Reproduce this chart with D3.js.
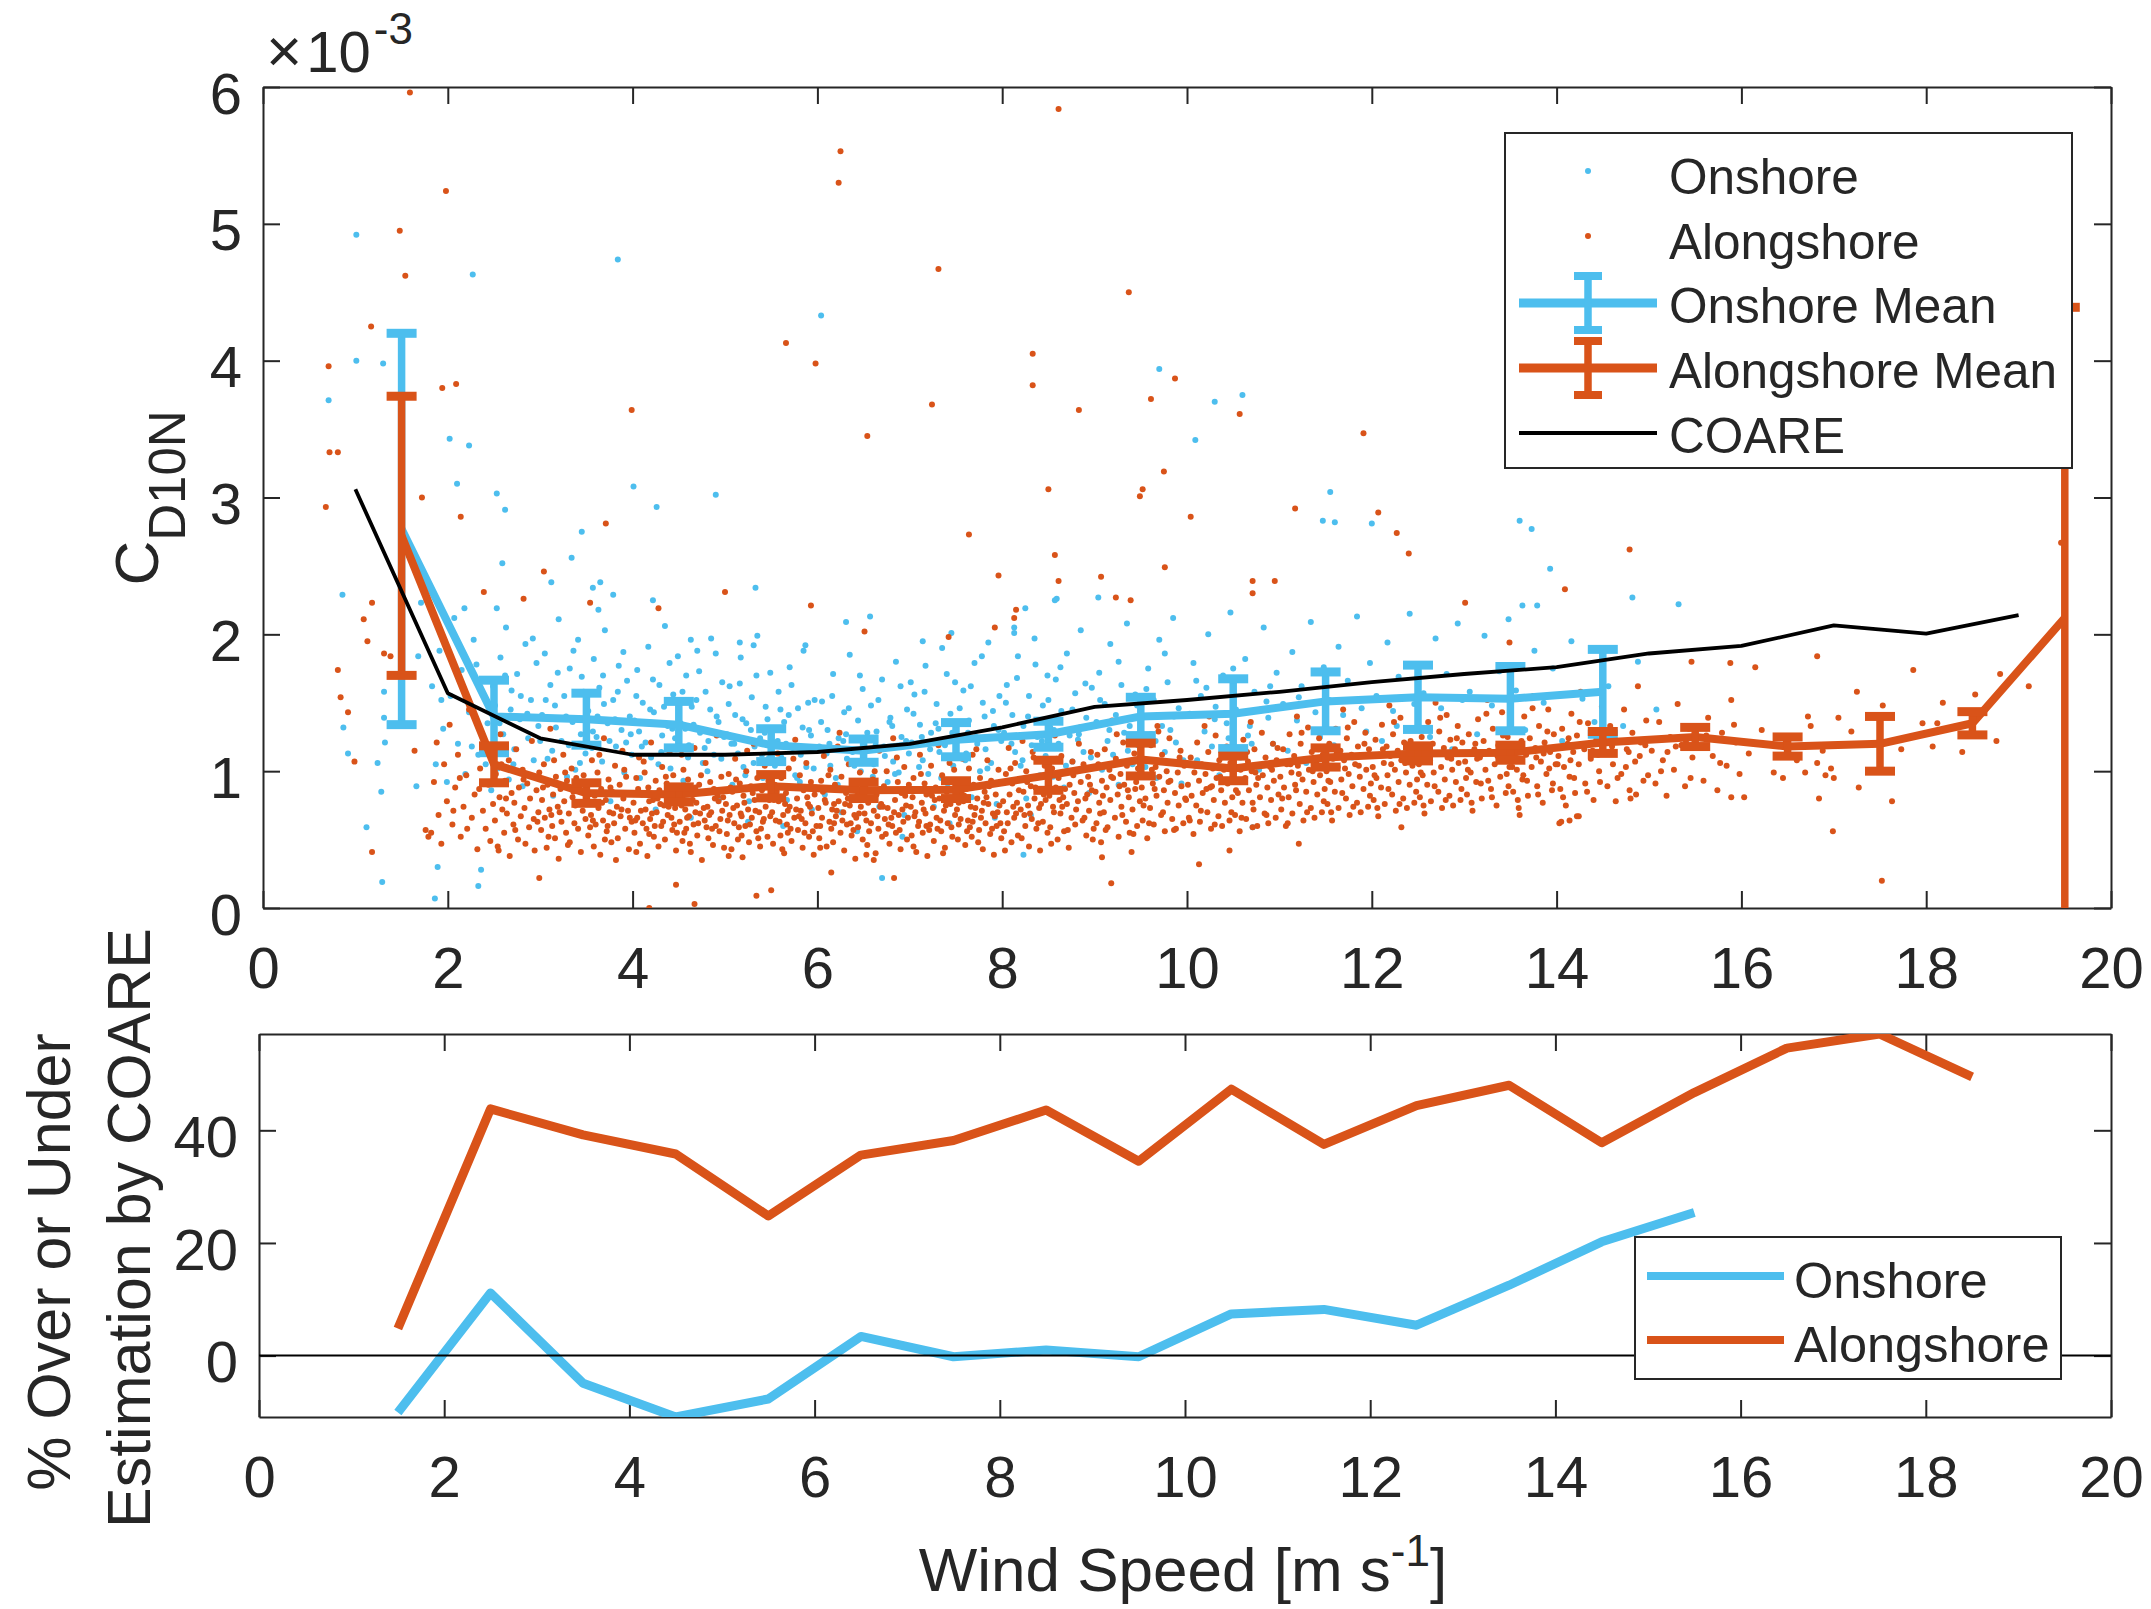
<!DOCTYPE html>
<html>
<head>
<meta charset="utf-8">
<script src="https://cdn.jsdelivr.net/npm/d3@7"></script>
<style>
  html, body { margin: 0; padding: 0; background: #fff; }
  svg { display: block; }
  text { font-family: "Liberation Sans", Arial, Helvetica, sans-serif; fill: #262626; }
</style>
</head>
<body>
<svg id="fig" width="2151" height="1609"></svg>
<script>
// ---------------------------------------------------------------
// Drag coefficient C_D10N (units of 1e-3) vs 10 m wind speed
// ---------------------------------------------------------------

// Individual onshore-wind samples [wind speed, C_D10N x1e3]
const onshoreSamples = [
  [1.01,4.92],[2.27,4.63],[3.84,4.74],[6.04,4.33],[1.01,4.0],[1.30,3.98],[0.71,3.71],[2.02,3.43],[2.23,3.38],[2.10,3.10],
  [2.53,3.03],[2.62,2.91],[4.01,3.08],[4.26,2.93],[4.90,3.02],[3.45,2.75],[9.70,3.94],[10.30,3.70],[10.60,3.75],[10.09,3.42],
  [11.55,3.04],[11.60,2.82],[12.0,2.81],[13.60,2.83],[13.73,2.77],[13.93,2.48],[14.82,2.27],[13.63,2.21],[13.79,2.21],[15.32,2.22],
  [9.04,2.27],[8.25,2.19],[8.59,2.26],[8.13,2.05],[0.86,2.29],[0.87,1.32],[0.92,1.13],[1.12,0.59],[1.29,0.19],[1.86,0.07],
  [1.89,0.30],[1.31,1.58],[1.31,1.39],[1.32,1.21],[1.24,1.06],[1.28,0.85],[1.66,0.89],[1.68,1.84],[1.71,2.23],[1.77,2.25],
  [1.93,1.52],[2.59,2.52],[2.18,2.19],[2.53,2.19],[3.34,2.56],[3.12,2.38],[3.57,2.34],[3.65,2.38],[3.79,2.29],[4.22,2.25],
  [4.63,1.96],[5.33,2.34],[8.57,2.25],[6.57,2.13],[5.87,1.92],[6.31,2.09],[7.45,2.01],[8.13,2.01],[5.16,1.94],[5.31,1.92],
  [7.14,1.95],[7.01,1.65],[6.70,0.22],[2.33,0.16],[2.36,0.28],[8.23,0.39],[10.71,0.59],[11.47,2.83],
  [1.83,1.62],[1.87,1.05],[1.91,1.88],[1.95,1.31],[1.99,.92],[2.03,1.55],[2.07,2.12],[2.11,1.20],[2.15,1.74],[2.19,.98],
  [2.23,1.43],[2.28,1.96],[2.33,1.12],[2.38,1.67],[2.43,1.35],[2.47,.86],
  [2.51,1.48],[2.54,1.02],[2.57,1.83],[2.60,1.27],[2.63,2.05],[2.66,.94],[2.69,1.59],[2.72,1.16],[2.75,1.71],[2.78,1.38],
  [2.81,.89],[2.84,1.93],[2.87,1.24],[2.90,1.52],[2.93,1.08],[2.96,1.79],[2.98,1.33],[2.68,1.45],
  [3.02,1.41],[3.05,1.86],[3.08,1.09],[3.11,1.63],[3.14,.82],[3.17,1.32],[3.20,2.11],[3.23,1.22],[3.26,1.55],[3.29,.96],
  [3.32,1.75],[3.35,1.36],[3.38,1.01],[3.41,1.96],[3.44,1.27],[3.47,1.58],[3.49,1.13],[3.16,1.48],[3.31,1.19],[3.45,1.69],
  [3.52,1.44],[3.55,.91],[3.58,1.82],[3.61,1.25],[3.64,1.61],[3.67,1.07],[3.70,2.03],[3.73,1.35],[3.76,.78],[3.79,1.52],
  [3.82,1.18],[3.85,1.77],[3.88,1.30],[3.91,.99],[3.94,1.66],[3.97,1.40],[3.99,1.12],[3.57,1.29],[3.69,1.49],[3.81,1.38],
  [3.93,1.21],[3.63,2.18],
  [4.02,1.37],[4.05,1.74],[4.08,.95],[4.11,1.50],[4.14,1.21],[4.17,1.91],[4.20,1.10],[4.23,1.43],[4.26,.84],[4.29,1.63],
  [4.32,1.26],[4.35,2.06],[4.38,1.33],[4.41,1.02],[4.44,1.56],[4.47,1.16],[4.49,1.84],[4.07,1.29],[4.19,1.45],[4.31,1.14],
  [4.43,1.31],[4.25,.72],
  [4.52,1.35],[4.55,.93],[4.58,1.70],[4.61,1.19],[4.64,1.47],[4.67,.87],[4.70,1.88],[4.73,1.28],[4.76,1.06],[4.79,1.58],
  [4.82,1.22],[4.85,1.97],[4.88,1.12],[4.91,1.40],[4.94,.80],[4.97,1.65],[4.99,1.25],[4.57,1.31],[4.69,1.52],[4.81,1.00],
  [4.93,1.36],[4.63,.66],
  [5.02,1.27],[5.05,1.62],[5.08,.90],[5.11,1.41],[5.14,1.13],[5.17,1.83],[5.20,1.03],[5.23,1.35],[5.26,.78],[5.29,1.54],
  [5.32,1.18],[5.35,1.99],[5.38,1.24],[5.41,.95],[5.44,1.47],[5.47,1.09],[5.49,1.72],[5.07,1.20],[5.19,1.38],[5.31,1.06],
  [5.43,1.28],[5.25,.63],
  [5.52,1.21],[5.55,.85],[5.58,1.58],[5.61,1.10],[5.64,1.36],[5.67,.79],[5.70,1.76],[5.73,1.17],[5.76,.97],[5.79,1.46],
  [5.82,1.12],[5.85,1.88],[5.88,1.03],[5.91,1.30],[5.94,.72],[5.97,1.52],[5.99,1.15],[5.57,1.22],[5.69,1.41],[5.81,.92],
  [5.93,1.26],[5.63,.60],
  [6.02,1.18],[6.05,1.51],[6.08,.83],[6.11,1.30],[6.14,1.04],[6.17,1.71],[6.20,.95],[6.23,1.24],[6.26,.70],[6.29,1.43],
  [6.32,1.09],[6.35,1.85],[6.38,1.14],[6.41,.88],[6.44,1.37],[6.47,1.00],[6.49,1.60],[6.13,1.20],[6.31,1.27],[6.43,.56],
  [6.52,1.15],[6.55,.80],[6.58,1.48],[6.61,1.05],[6.64,1.29],[6.67,.74],[6.70,1.67],[6.73,1.11],[6.76,.92],[6.79,1.39],
  [6.82,1.07],[6.85,1.80],[6.88,.99],[6.91,1.25],[6.94,.68],[6.97,1.45],[6.99,1.13],[6.63,1.19],[6.81,1.33],[6.92,.52],
  [7.02,1.21],[7.05,1.56],[7.08,.87],[7.11,1.34],[7.14,1.08],[7.17,1.77],[7.20,.98],[7.23,1.28],[7.26,.74],[7.29,1.49],
  [7.32,1.14],[7.35,1.90],[7.38,1.19],[7.41,.91],[7.44,1.42],[7.47,1.04],[7.49,1.65],[7.13,1.25],[7.31,1.31],[7.43,.62],
  [7.52,1.24],[7.55,.89],[7.58,1.59],[7.61,1.13],[7.64,1.37],[7.67,.81],[7.70,1.79],[7.73,1.20],[7.76,1.00],[7.79,1.50],
  [7.82,1.16],[7.85,1.94],[7.88,1.06],[7.91,1.33],[7.94,.76],[7.97,1.55],[7.99,1.22],[7.63,1.28],[7.81,1.40],[7.92,.66],
  [8.02,1.28],[8.05,1.63],[8.08,.93],[8.11,1.41],[8.14,1.14],[8.17,1.84],[8.20,1.04],[8.23,1.33],[8.26,.80],[8.29,1.55],
  [8.32,1.19],[8.35,1.97],[8.38,1.25],[8.41,.97],[8.44,1.48],[8.47,1.11],[8.49,1.70],[8.31,.68],
  [8.52,1.32],[8.55,.96],[8.58,1.67],[8.61,1.20],[8.64,1.44],[8.67,.88],[8.70,1.86],[8.73,1.26],[8.76,1.07],[8.79,1.57],
  [8.82,1.23],[8.85,2.03],[8.88,1.14],[8.91,1.39],[8.94,.84],[8.97,1.61],
  [9.02,1.36],[9.05,1.72],[9.08,1.01],[9.11,1.49],[9.14,1.22],[9.17,1.93],[9.20,1.12],[9.23,1.41],[9.26,.90],[9.29,1.63],
  [9.32,1.28],[9.35,2.08],[9.38,1.33],[9.41,1.05],[9.44,1.56],[9.47,1.19],
  [9.52,1.40],[9.55,1.03],[9.58,1.75],[9.61,1.27],[9.64,1.52],[9.67,.95],[9.70,1.96],[9.73,1.33],[9.76,1.14],[9.79,1.65],
  [9.82,1.30],[9.85,2.12],[9.88,1.21],[9.91,1.46],[9.94,.91],
  [10.03,1.42],[10.07,1.79],[10.11,1.08],[10.15,1.55],[10.19,1.29],[10.23,2.00],[10.27,1.18],[10.31,1.47],[10.35,.97],[10.39,1.70],
  [10.43,1.35],[10.47,2.16],[10.21,1.61],[10.45,1.24],
  [10.53,1.45],[10.58,1.10],[10.63,1.82],[10.68,1.33],[10.73,1.58],[10.78,1.01],[10.83,2.05],[10.88,1.39],[10.93,1.20],[10.97,1.72],
  [10.66,1.26],[10.86,1.51],
  [11.04,1.49],[11.09,1.15],[11.14,1.87],[11.19,1.37],[11.24,1.62],[11.29,1.06],[11.34,2.09],[11.39,1.43],[11.44,1.25],[11.48,1.76],
  [11.21,1.54],
  [11.54,1.52],[11.59,1.19],[11.64,1.91],[11.69,1.41],[11.74,1.66],[11.79,1.10],[11.84,2.13],[11.89,1.46],[11.94,1.29],[11.98,1.79],
  [12.05,1.55],[12.11,1.22],[12.17,1.94],[12.23,1.44],[12.29,1.69],[12.35,1.13],[12.41,2.15],[12.46,1.49],[12.27,1.33],
  [12.56,1.57],[12.63,1.25],[12.69,1.97],[12.75,1.46],[12.81,1.71],[12.87,1.16],[12.93,2.08],[12.98,1.52],
  [13.06,1.58],[13.14,1.27],[13.22,1.99],[13.30,1.48],[13.38,1.73],[13.45,1.19],[13.48,2.11],
  [13.56,1.59],[13.66,1.30],[13.76,1.88],[13.86,1.50],[13.96,1.75],[14.06,1.22],[14.16,1.95],[14.28,1.53],[14.41,1.36],
  [14.56,1.62],[14.72,1.33],[14.88,1.80],[15.08,1.45],
  [2.21,1.52],[2.26,1.18],[2.31,1.78],[2.41,1.05],[2.49,1.62],[2.56,1.35],[2.62,1.70],[2.71,1.05],[2.79,1.55],[2.86,1.42],
  [2.92,1.97],[3.00,1.22],[3.06,1.52],[3.13,1.15],[3.19,1.72],[3.28,1.40],[3.36,1.88],[3.43,1.06],[3.50,1.52],[3.56,1.17],
  [3.62,1.40],[3.68,1.70],[3.75,1.22],[3.84,1.58],[3.90,1.87],[3.98,1.27],[4.04,1.55],[4.10,1.18],[4.16,1.36],[4.22,1.67],
  [4.28,1.05],[4.34,1.47],[4.40,1.79],[4.46,1.24],[4.54,1.58],[4.60,1.10],[4.66,1.34],[4.72,1.73],[4.78,1.17],[4.84,1.45],
  [4.90,1.86],[4.96,1.09],[5.04,1.49],[5.10,1.20],[5.16,1.64],[5.22,.97],[5.28,1.30],[5.34,1.70],[5.40,1.12],[5.46,1.38],
  [5.54,1.04],[5.60,1.45],[5.66,1.20],[5.72,1.63],[5.78,.95],[5.84,1.32],[5.90,1.50],[5.96,1.02],[6.04,1.36],[6.10,1.13],
  [6.16,1.55],[6.22,.90],[6.28,1.22],[6.34,1.46],[6.40,1.04],[6.46,1.70],[6.54,1.28],[6.60,.96],[6.66,1.52],[6.72,1.18],
  [6.78,1.36],[6.84,.98],[6.90,1.62],[6.96,1.22],[7.04,1.42],[7.10,1.03],[7.16,1.58],[7.22,1.16],[7.28,1.35],[7.34,.95],
  [7.40,1.71],[7.46,1.28],[7.54,1.46],[7.60,1.08],[7.66,1.62],[7.72,1.25],[7.78,1.84],[7.84,1.02],[7.90,1.44],[7.96,1.30],
  [8.04,1.50],[8.10,1.20],[8.16,1.68],[8.22,1.08],[8.28,1.40],[8.36,1.78],[8.43,1.22],[8.50,1.52],[8.56,1.30],[8.63,1.76],
  [8.69,1.04],[8.76,1.45],[8.83,1.27],[8.90,1.64],[8.96,1.10],[9.06,1.52],[9.16,1.30],[9.26,1.80],[9.36,1.15],[9.46,1.48],
  [9.56,1.60],[9.66,1.22],[9.76,1.86],[9.86,1.40],[9.96,1.08],[10.10,1.66],[10.30,1.38],[10.50,1.75],[10.70,1.20],[10.90,1.62]
];

// Individual alongshore-wind samples [wind speed, C_D10N x1e3]
const alongshoreSamples = [
  [1.59,5.96],[1.98,5.24],[1.48,4.95],[1.54,4.62],[6.25,5.53],[6.23,5.30],[1.17,4.25],[0.71,3.96],[5.66,4.13],[5.98,3.98],
  [1.94,3.80],[2.09,3.83],[3.99,3.64],[6.54,3.45],[0.72,3.33],[0.81,3.33],[0.68,2.93],[1.72,3.00],[2.14,2.86],[3.71,2.81],
  [8.61,5.84],[7.31,4.67],[9.37,4.50],[8.33,4.05],[8.33,3.82],[9.87,3.87],[7.24,3.68],[8.83,3.64],[9.61,3.72],[10.57,3.61],
  [11.91,3.47],[9.75,3.19],[8.50,3.06],[9.52,3.06],[9.49,3.01],[7.64,2.73],[10.04,2.86],[11.17,2.92],[12.07,2.89],[12.27,2.74],
  [14.79,2.62],[14.09,2.33],[19.46,2.67],[13.49,1.94],[16.82,1.84],[17.86,1.74],[15.46,1.80],[15.88,1.79],[16.15,1.76],[18.8,1.71],
  [19.11,1.62],[17.25,1.58],[18.18,1.50],[18.53,1.56],[17.53,1.48],[16.72,1.40],[17.05,1.39],[17.19,1.29],[17.96,1.35],[18.12,1.35],
  [18.76,1.22],[18.39,1.14],[18.07,1.18],[17.73,1.16],[16.82,1.06],[16.69,0.99],[16.91,0.97],[16.45,0.95],[17.27,0.88],[16.84,0.80],
  [17.63,0.78],[16.99,0.56],[17.52,0.20],[15.89,0.81],[16.03,0.81],[14.80,0.80],[14.03,0.62],[14.14,0.64],[14.22,0.67],[13.60,0.68],
  [8.57,2.58],[12.40,2.59],[9.76,2.49],[9.07,2.42],[10.71,2.39],[10.95,2.39],[8.61,2.39],[10.71,2.30],[9.23,2.27],[9.39,2.25],
  [13.01,2.23],[8.15,2.18],[0.81,1.74],[0.84,1.54],[0.92,1.43],[0.99,1.07],[1.09,2.11],[1.18,2.23],[1.18,0.41],[1.13,1.95],
  [1.31,1.86],[1.38,1.84],[1.64,1.15],[1.79,0.52],[1.76,0.57],[2.39,2.31],[2.82,2.26],[3.04,2.46],[3.54,2.23],[4.28,2.19],
  [5.0,2.31],[5.93,2.21],[7.96,2.43],[7.92,2.05],[8.13,2.12],[6.51,2.02],[7.42,1.98],[4.18,0.0],[4.67,0.03],[5.34,0.09],
  [5.50,0.13],[6.83,0.22],[2.99,0.22],[4.47,0.17],[2.55,0.42],[6.15,0.26],[6.61,0.35],[9.18,0.18],[10.13,0.32],[9.08,0.37],
  [9.40,0.41],[10.46,0.42],[11.21,0.47],[10.71,0.59],[12.32,0.59],[14.05,0.63],[14.24,0.67],[17.0,0.95],
  [1.82,.55],[1.85,.92],[1.88,1.21],[1.90,.68],[1.93,.47],[1.96,1.05],[1.99,.78],[2.02,1.34],[2.05,.61],[2.08,.88],
  [2.11,1.12],[2.14,.52],[2.17,.74],[2.2,.97],[2.23,1.45],[2.26,.66],[2.29,.83],[2.32,.43],[2.35,1.02],[2.38,.71],
  [2.41,.58],[2.44,.90],[2.47,1.18],[2.49,.76],
  [2.51,.64],[2.52,.98],[2.54,.45],[2.56,.81],[2.57,1.27],[2.59,.72],[2.61,.55],[2.62,.93],[2.64,.69],[2.66,1.08],
  [2.67,.38],[2.69,.84],[2.71,.61],[2.72,.77],[2.74,1.16],[2.76,.50],[2.77,.88],[2.79,.67],[2.81,1.01],[2.83,.73],
  [2.84,.47],[2.86,.91],[2.88,.59],[2.89,.80],[2.91,1.22],[2.93,.65],[2.94,.42],[2.96,.86],[2.98,.70],[2.99,.99],
  [3.01,.57],[3.02,.79],[3.04,1.05],[3.05,.66],[3.07,.44],[3.08,.90],[3.10,.72],[3.11,1.31],[3.13,.60],[3.14,.83],
  [3.16,.51],[3.17,.96],[3.19,.74],[3.20,.36],[3.22,.87],[3.23,.63],[3.25,1.12],[3.26,.78],[3.28,.55],[3.29,.93],
  [3.31,.69],[3.32,.48],[3.34,1.02],[3.35,.81],[3.37,.62],[3.38,.75],[3.40,1.19],[3.41,.58],[3.43,.89],[3.44,.41],
  [3.46,.71],[3.47,.97],[3.49,.65],[3.36,.85],[3.12,.68],[3.27,.99],
  [3.51,.76],[3.52,.53],[3.53,.92],[3.55,.68],[3.56,1.08],[3.58,.45],[3.59,.82],[3.60,.61],[3.62,.99],[3.63,.73],
  [3.65,.39],[3.66,.87],[3.68,.64],[3.69,1.24],[3.71,.79],[3.72,.56],[3.74,.94],[3.75,.70],[3.77,.48],[3.78,.85],
  [3.80,.62],[3.81,1.04],[3.83,.74],[3.84,.51],[3.86,.90],[3.87,.67],[3.89,1.15],[3.90,.80],[3.92,.58],[3.93,.96],
  [3.95,.71],[3.96,.43],[3.98,.84],[3.99,.63],[3.54,.59],[3.67,.77],[3.79,.69],[3.88,.72],[3.61,.84],[3.73,.60],
  [4.01,.77],[4.02,.55],[4.04,.95],[4.05,.66],[4.07,1.10],[4.08,.47],[4.10,.83],[4.11,.62],[4.13,.99],[4.14,.72],
  [4.16,.38],[4.17,.88],[4.19,.65],[4.20,1.21],[4.22,.79],[4.23,.52],[4.25,.93],[4.26,.70],[4.28,.45],[4.29,.86],
  [4.31,.60],[4.32,1.03],[4.34,.75],[4.35,.50],[4.37,.91],[4.38,.68],[4.40,1.14],[4.41,.81],[4.43,.57],[4.44,.97],
  [4.46,.73],[4.47,.42],[4.49,.85],[4.03,.64],[4.09,.71],[4.15,.58],[4.21,.69],[4.27,.80],[4.33,.63],[4.39,.74],
  [4.45,.61],[4.06,.87],[4.18,.54],[4.30,.76],[4.42,.66],
  [4.51,.63],[4.52,.86],[4.54,.49],[4.55,1.01],[4.57,.72],[4.58,.58],[4.60,.94],[4.61,.67],[4.63,.41],[4.64,.83],
  [4.66,.61],[4.67,1.17],[4.69,.77],[4.70,.53],[4.72,.90],[4.73,.69],[4.75,.35],[4.76,.84],[4.78,.64],[4.79,1.06],
  [4.81,.74],[4.82,.51],[4.84,.92],[4.85,.70],[4.87,.46],[4.88,.87],[4.90,.60],[4.91,1.26],[4.93,.78],[4.94,.56],
  [4.96,.96],[4.97,.71],[4.99,.44],[4.53,.75],[4.59,.66],[4.65,.79],[4.71,.62],[4.77,.73],[4.83,.68],[4.89,.80],
  [4.95,.65],[4.56,.55],[4.68,.88],[4.80,.59],[4.92,.82],
  [5.01,.76],[5.02,.54],[5.04,.98],[5.05,.68],[5.07,.43],[5.08,.85],[5.10,.62],[5.11,1.09],[5.13,.75],[5.14,.50],
  [5.16,.91],[5.17,.69],[5.19,.37],[5.20,.82],[5.22,.60],[5.23,1.00],[5.25,.72],[5.26,.48],[5.28,.89],[5.29,.66],
  [5.31,1.20],[5.32,.79],[5.34,.56],[5.35,.95],[5.37,.70],[5.38,.45],[5.40,.86],[5.41,.63],[5.43,1.04],[5.44,.74],
  [5.46,.52],[5.47,.93],[5.49,.67],[5.03,.64],[5.09,.73],[5.15,.59],[5.21,.77],[5.27,.61],[5.33,.71],[5.39,.58],
  [5.45,.81],[5.06,.88],[5.18,.53],[5.30,.84],[5.42,.65],
  [5.51,.70],[5.52,.47],[5.54,.90],[5.55,.64],[5.57,1.13],[5.58,.78],[5.60,.53],[5.61,.95],[5.63,.68],[5.64,.40],
  [5.66,.84],[5.67,.61],[5.69,1.02],[5.70,.74],[5.72,.49],[5.73,.88],[5.75,.66],[5.76,1.23],[5.78,.80],[5.79,.57],
  [5.81,.97],[5.82,.71],[5.84,.44],[5.85,.86],[5.87,.62],[5.88,1.06],[5.90,.76],[5.91,.52],[5.93,.92],[5.94,.69],
  [5.96,.39],[5.97,.83],[5.99,.60],[5.53,.79],[5.59,.63],[5.65,.76],[5.71,.58],[5.77,.72],[5.83,.65],[5.89,.81],
  [5.95,.56],[5.56,.85],[5.68,.55],[5.80,.67],[5.92,.74],
  [6.01,.73],[6.02,.51],[6.04,.93],[6.05,.66],[6.07,1.11],[6.08,.79],[6.10,.45],[6.11,.87],[6.13,.63],[6.14,1.01],
  [6.16,.72],[6.17,.48],[6.19,.90],[6.20,.67],[6.22,1.18],[6.23,.78],[6.25,.55],[6.26,.96],[6.28,.70],[6.29,.42],
  [6.31,.84],[6.32,.61],[6.34,1.05],[6.35,.75],[6.37,.53],[6.38,.91],[6.40,.68],[6.41,.36],[6.43,.82],[6.44,.59],
  [6.46,.99],[6.47,.74],[6.49,.50],[6.03,.60],[6.09,.77],[6.15,.58],[6.21,.71],[6.27,.64],[6.33,.80],[6.39,.57],
  [6.45,.69],[6.06,.85],[6.18,.62],[6.30,.76],[6.42,.66],
  [6.51,.69],[6.52,.88],[6.54,.46],[6.55,.77],[6.57,1.07],[6.58,.62],[6.60,.94],[6.61,.71],[6.63,.40],[6.64,.83],
  [6.66,.58],[6.67,1.15],[6.69,.76],[6.70,.52],[6.72,.89],[6.73,.65],[6.75,1.00],[6.76,.73],[6.78,.47],[6.79,.86],
  [6.81,.60],[6.82,1.24],[6.84,.79],[6.85,.55],[6.87,.92],[6.88,.68],[6.90,.43],[6.91,.84],[6.93,.63],[6.94,1.03],
  [6.96,.75],[6.97,.50],[6.99,.90],[6.53,.64],[6.59,.80],[6.65,.67],[6.71,.74],[6.77,.61],[6.83,.70],[6.89,.57],
  [6.95,.82],[6.56,.56],[6.68,.87],[6.80,.66],[6.92,.72],
  [7.01,.74],[7.02,.53],[7.04,.95],[7.05,.67],[7.07,.41],[7.08,.86],[7.10,.63],[7.11,1.12],[7.13,.77],[7.14,.55],
  [7.16,.91],[7.17,.69],[7.19,.38],[7.20,.84],[7.22,.61],[7.23,1.04],[7.25,.73],[7.26,.49],[7.28,.88],[7.29,.66],
  [7.31,1.19],[7.32,.80],[7.34,.56],[7.35,.97],[7.37,.71],[7.38,.44],[7.40,.85],[7.41,.62],[7.43,1.06],[7.44,.76],
  [7.46,.52],[7.47,.93],[7.49,.68],[7.03,.81],[7.09,.60],[7.15,.72],[7.21,.57],[7.27,.79],[7.33,.64],[7.39,.75],
  [7.45,.59],[7.06,.70],[7.18,.83],[7.30,.58],[7.42,.87],
  [7.51,.72],[7.52,.50],[7.54,.92],[7.55,.65],[7.57,1.09],[7.58,.78],[7.60,.46],[7.61,.87],[7.63,.64],[7.64,1.02],
  [7.66,.74],[7.67,.52],[7.69,.90],[7.70,.68],[7.72,1.16],[7.73,.80],[7.75,.57],[7.76,.95],[7.78,.71],[7.79,.43],
  [7.81,.85],[7.82,.62],[7.84,1.08],[7.85,.76],[7.87,.54],[7.88,.93],[7.90,.69],[7.91,.39],[7.93,.83],[7.94,.60],
  [7.96,1.01],[7.97,.75],[7.99,.51],[7.53,.61],[7.59,.82],[7.65,.59],[7.71,.73],[7.77,.66],[7.83,.81],[7.89,.58],
  [7.95,.70],[7.56,.84],[7.68,.63],[7.80,.77],[7.92,.67],
  [8.01,.78],[8.02,.56],[8.04,.98],[8.05,.70],[8.07,1.17],[8.08,.83],[8.10,.48],[8.11,.91],[8.13,.66],[8.14,1.06],
  [8.16,.77],[8.17,.53],[8.19,.94],[8.20,.72],[8.22,1.22],[8.23,.85],[8.25,.60],[8.26,1.00],[8.28,.75],[8.29,.45],
  [8.31,.89],[8.32,.65],[8.34,1.10],[8.35,.80],[8.37,.58],[8.38,.96],[8.40,.73],[8.41,.42],[8.43,.87],[8.44,.63],
  [8.46,1.04],[8.47,.79],[8.49,.55],[8.06,.62],[8.18,.86],[8.30,.69],[8.42,.76],[8.12,.74],[8.24,.68],[8.36,.88],
  [8.51,.82],[8.52,.59],[8.54,1.02],[8.55,.74],[8.57,1.26],[8.58,.88],[8.60,.50],[8.61,.95],[8.63,.69],[8.64,1.11],
  [8.66,.81],[8.67,.56],[8.69,.99],[8.70,.76],[8.72,.44],[8.73,.90],[8.75,.66],[8.76,1.07],[8.78,.84],[8.79,.61],
  [8.81,1.00],[8.82,.78],[8.84,1.32],[8.85,.92],[8.87,.64],[8.88,1.05],[8.90,.80],[8.91,.53],[8.93,.96],[8.94,.71],
  [8.96,1.14],[8.97,.86],[8.99,.58],[8.56,.70],[8.68,.87],[8.80,.72],[8.92,.83],[8.62,.79],
  [9.01,.85],[9.02,.62],[9.04,1.05],[9.05,.77],[9.07,.48],[9.08,.93],[9.10,.70],[9.11,1.16],[9.13,.88],[9.14,.59],
  [9.16,1.01],[9.17,.79],[9.19,1.37],[9.20,.95],[9.22,.66],[9.23,1.09],[9.25,.83],[9.26,.52],[9.28,.98],[9.29,.74],
  [9.31,1.21],[9.32,.90],[9.34,.63],[9.35,1.04],[9.37,.81],[9.38,.55],[9.40,.97],[9.41,.72],[9.43,1.13],[9.44,.87],
  [9.46,.60],[9.47,1.02],[9.49,.78],[9.09,.82],[9.27,.89],[9.45,.92],
  [9.51,.88],[9.52,.64],[9.54,1.08],[9.55,.80],[9.57,.51],[9.58,.97],[9.60,.73],[9.61,1.19],[9.63,.91],[9.64,.61],
  [9.66,1.03],[9.67,.82],[9.69,1.29],[9.70,.96],[9.72,.68],[9.73,1.12],[9.75,.86],[9.76,.56],[9.78,1.00],[9.79,.77],
  [9.81,1.24],[9.82,.93],[9.84,.65],[9.85,1.06],[9.87,.84],[9.88,.58],[9.90,.99],[9.91,.75],[9.93,1.15],[9.94,.89],
  [9.96,.62],[9.97,1.04],[9.99,.79],[9.65,.87],
  [10.01,.90],[10.02,.66],[10.04,1.10],[10.05,.82],[10.07,.54],[10.08,.99],[10.10,.75],[10.11,1.21],[10.13,.93],[10.14,.63],
  [10.16,1.05],[10.17,.84],[10.19,1.33],[10.20,.98],[10.22,.70],[10.23,1.14],[10.25,.88],[10.26,.58],[10.28,1.02],[10.29,.79],
  [10.31,1.26],[10.32,.95],[10.34,.67],[10.35,1.08],[10.37,.86],[10.38,.60],[10.40,1.01],[10.41,.77],[10.43,1.18],[10.44,.91],
  [10.46,.64],[10.47,1.06],[10.49,.81],[10.27,.89],
  [10.51,.92],[10.52,.68],[10.54,1.12],[10.55,.84],[10.57,.56],[10.58,1.01],[10.60,.77],[10.61,1.23],[10.63,.95],[10.64,.65],
  [10.66,1.07],[10.67,.86],[10.69,1.36],[10.70,1.00],[10.72,.72],[10.73,1.16],[10.75,.90],[10.76,.60],[10.78,1.04],[10.79,.81],
  [10.81,1.28],[10.82,.97],[10.84,.69],[10.85,1.10],[10.87,.88],[10.88,.62],[10.90,1.03],[10.91,.79],[10.93,1.20],[10.94,.93],
  [10.96,.66],[10.97,1.08],[10.99,.83],[10.74,.99],
  [11.01,.96],[11.02,.72],[11.04,1.16],[11.05,.88],[11.07,.60],[11.08,1.05],[11.10,.81],[11.11,1.27],[11.13,.99],[11.14,.69],
  [11.16,1.11],[11.17,.90],[11.19,1.40],[11.20,1.04],[11.22,.76],[11.23,1.20],[11.25,.94],[11.26,.64],[11.28,1.08],[11.29,.85],
  [11.31,1.32],[11.32,1.01],[11.34,.73],[11.35,1.14],[11.37,.92],[11.38,.66],[11.40,1.07],[11.41,.83],[11.43,1.24],[11.44,.97],
  [11.46,.70],[11.47,1.12],[11.49,.87],[11.21,.98],
  [11.51,1.00],[11.52,.76],[11.54,1.20],[11.55,.92],[11.57,.64],[11.58,1.09],[11.60,.85],[11.61,1.31],[11.63,1.03],[11.64,.73],
  [11.66,1.15],[11.67,.94],[11.69,1.45],[11.70,1.08],[11.72,.80],[11.73,1.24],[11.75,.98],[11.76,.68],[11.78,1.12],[11.79,.89],
  [11.81,1.36],[11.82,1.05],[11.84,.77],[11.85,1.18],[11.87,.96],[11.88,.70],[11.90,1.11],[11.91,.87],[11.93,1.28],[11.94,1.01],
  [11.96,.74],[11.97,1.16],[11.99,.91],[11.71,1.02],
  [12.01,1.03],[12.02,.79],[12.04,1.23],[12.05,.95],[12.07,.67],[12.08,1.12],[12.10,.88],[12.11,1.34],[12.13,1.06],[12.14,.76],
  [12.16,1.18],[12.17,.97],[12.19,1.48],[12.20,1.11],[12.22,.83],[12.23,1.27],[12.25,1.01],[12.26,.71],[12.28,1.15],[12.29,.92],
  [12.31,1.39],[12.32,1.08],[12.34,.80],[12.35,1.21],[12.37,.99],[12.38,.73],[12.40,1.14],[12.41,.90],[12.43,1.31],[12.44,1.04],
  [12.46,.77],[12.47,1.19],[12.49,.94],[12.21,1.05],
  [12.51,1.05],[12.52,.81],[12.54,1.25],[12.55,.97],[12.57,.69],[12.58,1.14],[12.60,.90],[12.61,1.36],[12.63,1.08],[12.64,.78],
  [12.66,1.20],[12.67,.99],[12.69,1.50],[12.70,1.13],[12.72,.85],[12.73,1.29],[12.75,1.03],[12.76,.73],[12.78,1.17],[12.79,.94],
  [12.81,1.41],[12.82,1.10],[12.84,.82],[12.85,1.23],[12.87,1.01],[12.88,.75],[12.90,1.16],[12.91,.92],[12.93,1.33],[12.94,1.06],
  [12.96,.79],[12.98,1.21],
  [13.01,1.07],[13.03,.83],[13.05,1.27],[13.07,.99],[13.09,.71],[13.11,1.16],[13.13,.92],[13.15,1.38],[13.17,1.10],[13.19,.80],
  [13.21,1.22],[13.23,1.01],[13.25,1.52],[13.27,1.15],[13.29,.87],[13.31,1.31],[13.33,1.05],[13.35,.75],[13.37,1.19],[13.39,.96],
  [13.41,1.43],[13.43,1.12],[13.45,.84],[13.47,1.25],[13.49,1.03],[13.02,.95],[13.14,1.09],[13.26,.93],[13.38,1.14],[13.46,.98],
  [13.51,1.09],[13.53,.85],[13.55,1.29],[13.57,1.01],[13.59,.73],[13.61,1.18],[13.63,.94],[13.65,1.40],[13.67,1.12],[13.69,.82],
  [13.71,1.24],[13.73,1.03],[13.75,1.55],[13.77,1.17],[13.79,.89],[13.81,1.33],[13.83,1.07],[13.85,.77],[13.87,1.21],[13.89,.98],
  [13.91,1.45],[13.93,1.14],[13.95,.86],[13.97,1.27],[13.99,1.05],[13.64,.97],[13.78,1.10],[13.92,1.02],
  [14.02,1.11],[14.04,.87],[14.06,1.31],[14.08,1.03],[14.10,.75],[14.12,1.20],[14.14,.96],[14.16,1.42],[14.18,1.14],[14.20,.84],
  [14.22,1.26],[14.24,1.05],[14.26,1.58],[14.28,1.19],[14.31,.91],[14.34,1.35],[14.37,1.09],[14.40,.79],[14.43,1.23],[14.46,1.00],
  [14.49,1.47],[14.15,1.08],[14.30,1.16],[14.45,1.12],
  [14.52,1.13],[14.55,.89],[14.58,1.33],[14.61,1.05],[14.64,.78],[14.67,1.22],[14.70,.98],[14.73,1.45],[14.76,1.16],[14.79,.86],
  [14.82,1.28],[14.85,1.07],[14.88,1.62],[14.91,1.21],[14.94,.93],[14.97,1.37],[14.60,1.18],[14.75,1.03],[14.90,1.11],[14.99,.97],
  [15.03,1.15],[15.07,.91],[15.11,1.36],[15.15,1.08],[15.19,.82],[15.23,1.25],[15.27,1.01],[15.31,1.49],[15.35,1.19],[15.39,.89],
  [15.43,1.31],[15.47,1.10],[15.20,1.14],[15.40,1.22],
  [15.54,1.17],[15.59,.93],[15.64,1.39],[15.69,1.11],[15.74,.86],[15.79,1.28],[15.84,1.04],[15.89,1.52],[15.94,1.21],[15.98,.98],
  [16.08,1.13],[16.22,1.30],[16.35,.99],[16.48,1.22],[16.60,1.08],[16.75,1.33],[16.88,1.15],[16.97,1.02],
  [2.06,.71],[2.13,.95],[2.21,.58],[2.34,.87],[2.46,.49],[2.58,1.05],[2.63,.80],[2.73,.57],[2.82,.94],[2.97,.63],
  [3.03,.88],[3.09,.52],[3.15,1.08],[3.21,.70],[3.30,.46],[3.39,.95],[3.48,.77],[3.57,.64],[3.64,1.12],[3.70,.50],
  [3.76,.88],[3.82,.35],[3.91,1.01],[3.97,.66],[4.04,.41],[4.12,1.07],[4.18,.78],[4.24,.60],[4.36,.96],[4.48,.55],
  [4.53,1.12],[4.62,.47],[4.68,.70],[4.74,.97],[4.86,.58],[4.98,.81],[5.04,.38],[5.12,.94],[5.18,.67],[5.24,1.15],
  [5.36,.51],[5.48,.79],[5.53,.97],[5.62,.43],[5.68,.71],[5.74,1.09],[5.86,.55],[5.98,.88],[6.03,.44],[6.12,.97],
  [6.18,.76],[6.24,1.28],[6.36,.62],[6.48,.86],[6.53,.39],[6.62,1.00],[6.68,.74],[6.74,.54],[6.86,1.10],[6.98,.66],
  [7.04,.45],[7.12,.98],[7.18,.60],[7.24,.82],[7.36,.40],[7.48,1.01],[7.53,.77],[7.62,.56],[7.68,1.12],[7.74,.48],
  [7.86,.89],[7.98,.62],[8.03,.42],[8.09,1.02],[8.15,.69],[8.21,.51],[8.27,.92],[8.33,1.14],[8.39,.62],[8.45,.83],
  [8.53,.47],[8.59,1.09],[8.65,.74],[8.71,.57],[8.77,.97],[8.83,1.20],[8.89,.66],[8.95,.90],[8.98,.50],[9.03,1.12],
  [9.06,.69],[9.12,.57],[9.18,.96],[9.24,1.27],[9.30,.68],[9.36,.86],[9.42,.54],[9.48,1.07],[9.53,.75],[9.59,.62],
  [9.62,1.01],[9.68,1.33],[9.74,.70],[9.80,.92],[9.86,.57],[9.92,1.10],[9.98,.80],[10.03,.64],[10.09,1.04],[10.15,.71],
  [10.21,.87],[10.24,1.40],[10.30,.61],[10.36,.96],[10.42,1.12],[10.48,.70],[10.53,.86],[10.59,.66],[10.65,1.14],[10.71,.77],
  [10.77,.95],[10.80,1.45],[10.86,.68],[10.92,1.01],[10.98,1.17],[11.03,.80],[11.09,.62],[11.12,1.05],[11.18,.86],[11.24,1.28],
  [11.30,.70],[11.36,1.00],[11.42,1.16],[11.48,.78],[11.53,.93],[11.56,.70],[11.62,1.13],[11.68,.84],[11.74,1.32],[11.80,.74],
  [11.86,1.04],[11.92,1.20],[11.98,.82],[12.03,.97],[12.06,.73],[12.12,1.16],[12.18,.87],[12.24,1.36],[12.30,.76],[12.36,1.06],
  [12.42,1.22],[12.48,.85],[12.53,.99],[12.56,.75],[12.62,1.18],[12.68,.89],[12.74,1.39],[12.80,.79],[12.86,1.09],[12.92,1.24],
  [12.97,.87],[13.04,1.01],[13.08,.77],[13.12,1.20],[13.18,.91],[13.24,1.42],[13.30,.81],[13.36,1.11],[13.42,1.26],[13.48,.89],
  [13.52,1.03],[13.58,.79],[13.62,1.22],[13.68,.93],[13.74,1.46],[13.80,.83],[13.86,1.13],[13.90,1.29],[13.96,.91],[14.01,1.05],
  [14.07,.81],[14.13,1.24],[14.19,.95],[14.25,1.36],[14.33,.85],[14.39,1.15],[14.47,.92],[14.54,1.26],[14.66,.95],[14.78,1.14],
  [14.86,.83],[14.96,1.19],[15.13,1.00],[15.29,1.18],[15.45,.95],[15.62,1.26],[15.77,1.06],[15.92,1.34]
];

// Bin-averaged drag coefficient (x1e3) with error half-widths
const onshoreBins = [1.5, 2.5, 3.5, 4.5, 5.5, 6.5, 7.5, 8.5, 9.5, 10.5, 11.5, 12.5, 13.5, 14.5];
const onshoreMean = [2.77, 1.40, 1.38, 1.34, 1.19, 1.15, 1.23, 1.27, 1.40, 1.42, 1.51, 1.54, 1.53, 1.58];
const onshoreErr  = [1.43, 0.265, 0.19, 0.17, 0.12, 0.085, 0.125, 0.095, 0.14, 0.255, 0.215, 0.235, 0.235, 0.31];

const alongshoreBins = [1.5, 2.5, 3.5, 4.5, 5.5, 6.5, 7.5, 8.5, 9.5, 10.5, 11.5, 12.5, 13.5, 14.5, 15.5, 16.5, 17.5, 18.5, 19.5];
const alongshoreMean = [2.72, 1.05, 0.84, 0.83, 0.89, 0.86, 0.865, 0.97, 1.085, 1.02, 1.10, 1.13, 1.135, 1.21, 1.25, 1.18, 1.20, 1.35, 2.12];
const alongshoreErr  = [1.02, 0.135, 0.075, 0.055, 0.085, 0.06, 0.065, 0.11, 0.12, 0.09, 0.07, 0.055, 0.055, 0.08, 0.07, 0.07, 0.20, 0.085, 2.27];

// COARE bulk-algorithm drag coefficient (x1e3)
const coareWind = [1, 2, 3, 4, 5, 6, 7, 8, 9, 10, 11, 12, 13, 14, 15, 16, 17, 18, 19];
const coareCd   = [3.06, 1.57, 1.24, 1.12, 1.12, 1.14, 1.20, 1.32, 1.47, 1.52, 1.58, 1.65, 1.71, 1.76, 1.86, 1.915, 2.065, 2.005, 2.14];

// Percent over/under estimation by COARE per wind-speed bin
const onshorePctBins = [1.5, 2.5, 3.5, 4.5, 5.5, 6.5, 7.5, 8.5, 9.5, 10.5, 11.5, 12.5, 13.5, 14.5, 15.5];
const onshorePct     = [-10.1, 11.1, -4.9, -10.9, -7.7, 3.4, -0.2, 1.0, -0.2, 7.4, 8.2, 5.4, 12.5, 20.2, 25.4];
const alongshorePctBins = [1.5, 2.5, 3.5, 4.5, 5.5, 6.5, 7.5, 8.5, 9.5, 10.5, 11.5, 12.5, 13.5, 14.5, 15.5, 16.5, 17.5, 18.5];
const alongshorePct     = [4.8, 43.8, 39.2, 35.8, 24.8, 35.6, 38.2, 43.6, 34.5, 47.3, 37.5, 44.4, 48.0, 37.8, 46.7, 54.6, 57.1, 49.5];

// Axis ticks
const windTicks = [0, 2, 4, 6, 8, 10, 12, 14, 16, 18, 20];
const cdTicks = [0, 1, 2, 3, 4, 5, 6];
const pctTicks = [0, 20, 40];

// ---------------------------------------------------------------
const BLUE = "#4DBEEE", ORANGE = "#D95319", INK = "#262626";
const FONT = '"Liberation Sans", Arial, Helvetica, sans-serif';
const TICK_FS = 58, LABEL_FS = 62;
const DOT_R = 3;

const svg = d3.select("#fig");
svg.append("rect").attr("width", 2151).attr("height", 1609).attr("fill", "#fff");

// panel geometry
const upperBox = { l: 263, r: 2111, t: 87, b: 908 };
const lowerBox = { l: 259, r: 2111, t: 1034, b: 1417 };

const xT = d3.scaleLinear().domain([0, 20]).range([upperBox.l, upperBox.r]);
const yT = d3.scaleLinear().domain([0, 6]).range([upperBox.b, upperBox.t]);
const xB = d3.scaleLinear().domain([0, 20]).range([lowerBox.l, lowerBox.r]);
const yB = d3.scaleLinear().domain([-10.9, 57.1]).range([lowerBox.b, lowerBox.t]);

const defs = svg.append("defs");
defs.append("clipPath").attr("id", "clipTop").append("rect")
  .attr("x", upperBox.l).attr("y", upperBox.t).attr("width", upperBox.r - upperBox.l).attr("height", upperBox.b - upperBox.t);
defs.append("clipPath").attr("id", "clipBot").append("rect")
  .attr("x", lowerBox.l).attr("y", lowerBox.t).attr("width", lowerBox.r - lowerBox.l).attr("height", lowerBox.b - lowerBox.t);

// Boxed axes with inward ticks on all four sides
function drawAxes(p, x, y, yTicks, yFmt) {
  const g = svg.append("g").style("color", INK);
  const style = sel => {
    sel.attr("font-size", TICK_FS).attr("font-family", FONT);
    sel.selectAll("path.domain").attr("stroke-width", 2);
    sel.selectAll(".tick line").attr("stroke-width", 2);
  };
  g.append("g").attr("transform", `translate(0,${p.b})`)
    .call(d3.axisBottom(x).tickValues(windTicks).tickSizeInner(-17).tickSizeOuter(0).tickPadding(39).tickFormat(d3.format("d")))
    .call(style);
  g.append("g").attr("transform", `translate(0,${p.t})`)
    .call(d3.axisTop(x).tickValues(windTicks).tickSizeInner(-17).tickSizeOuter(0).tickFormat(""))
    .call(style);
  const la = g.append("g").attr("transform", `translate(${p.l},0)`)
    .call(d3.axisLeft(y).tickValues(yTicks).tickSizeInner(-17).tickSizeOuter(0).tickPadding(21).tickFormat(yFmt))
    .call(style);
  la.selectAll(".tick text").attr("dy", "0.45em");
  g.append("g").attr("transform", `translate(${p.r},0)`)
    .call(d3.axisRight(y).tickValues(yTicks).tickSizeInner(-17).tickSizeOuter(0).tickFormat(""))
    .call(style);
  return g;
}

// ---------------- upper panel ----------------
drawAxes(upperBox, xT, yT, cdTicks, d3.format("d"));

const upper = svg.append("g").attr("clip-path", "url(#clipTop)");

upper.append("g").selectAll("circle").data(onshoreSamples).join("circle")
  .attr("cx", d => xT(d[0])).attr("cy", d => yT(d[1])).attr("r", DOT_R).attr("fill", BLUE);
upper.append("g").selectAll("circle").data(alongshoreSamples).join("circle")
  .attr("cx", d => xT(d[0])).attr("cy", d => yT(d[1])).attr("r", DOT_R).attr("fill", ORANGE);

function meanWithErrors(bins, mean, err, color) {
  const rows = bins.map((b, i) => ({ x: b, m: mean[i], e: err[i] }));
  const g = upper.append("g").attr("stroke", color).attr("fill", "none");
  g.append("path")
    .attr("d", d3.line().x(d => xT(d.x)).y(d => yT(d.m))(rows))
    .attr("stroke-width", 8).attr("stroke-linejoin", "round");
  const bars = g.selectAll("g.bar").data(rows).join("g").attr("class", "bar");
  bars.append("line").attr("stroke-width", 7.5)
    .attr("x1", d => xT(d.x)).attr("x2", d => xT(d.x))
    .attr("y1", d => yT(d.m - d.e)).attr("y2", d => yT(d.m + d.e));
  bars.append("line").attr("stroke-width", 9)
    .attr("x1", d => xT(d.x) - 15).attr("x2", d => xT(d.x) + 15)
    .attr("y1", d => yT(d.m + d.e)).attr("y2", d => yT(d.m + d.e));
  bars.append("line").attr("stroke-width", 9)
    .attr("x1", d => xT(d.x) - 15).attr("x2", d => xT(d.x) + 15)
    .attr("y1", d => yT(d.m - d.e)).attr("y2", d => yT(d.m - d.e));
}
meanWithErrors(onshoreBins, onshoreMean, onshoreErr, BLUE);
meanWithErrors(alongshoreBins, alongshoreMean, alongshoreErr, ORANGE);

upper.append("path")
  .attr("d", d3.line().x((d, i) => xT(coareWind[i])).y(d => yT(d))(coareCd))
  .attr("fill", "none").attr("stroke", "#000").attr("stroke-width", 3.8).attr("stroke-linejoin", "round");

// scale exponent
const expo = svg.append("text").attr("x", 266).attr("y", 72).attr("font-size", 58);
expo.append("tspan").attr("font-size", 62).text("\u00d7");
expo.append("tspan").attr("dx", 4).text("10");
expo.append("tspan").attr("font-size", 44).attr("dy", -28).attr("dx", 3).text("-3");

// y label C_D10N
const yl = svg.append("text").attr("transform", "translate(158,498) rotate(-90)")
  .attr("text-anchor", "middle").attr("font-size", LABEL_FS);
yl.append("tspan").text("C");
yl.append("tspan").attr("font-size", 51).attr("dy", 27).text("D10N");

// legend (upper)
{
  const L = svg.append("g");
  L.append("rect").attr("x", 1505).attr("y", 133).attr("width", 567).attr("height", 335)
    .attr("fill", "#fff").attr("stroke", INK).attr("stroke-width", 2);
  const items = [
    { label: "Onshore", kind: "dot", color: BLUE, y: 174 },
    { label: "Alongshore", kind: "dot", color: ORANGE, y: 239 },
    { label: "Onshore Mean", kind: "err", color: BLUE, y: 303 },
    { label: "Alongshore Mean", kind: "err", color: ORANGE, y: 368 },
    { label: "COARE", kind: "line", color: "#000", y: 433 }
  ];
  const x0 = 1519, x1 = 1657, xc = 1588;
  items.forEach(it => {
    if (it.kind === "dot") {
      L.append("circle").attr("cx", xc).attr("cy", it.y - 3).attr("r", DOT_R).attr("fill", it.color);
    } else if (it.kind === "err") {
      const g = L.append("g").attr("stroke", it.color);
      g.append("line").attr("x1", x0).attr("x2", x1).attr("y1", it.y).attr("y2", it.y).attr("stroke-width", 9);
      g.append("line").attr("x1", xc).attr("x2", xc).attr("y1", it.y - 27).attr("y2", it.y + 27).attr("stroke-width", 7.5);
      g.append("line").attr("x1", xc - 14).attr("x2", xc + 14).attr("y1", it.y - 27).attr("y2", it.y - 27).attr("stroke-width", 8);
      g.append("line").attr("x1", xc - 14).attr("x2", xc + 14).attr("y1", it.y + 27).attr("y2", it.y + 27).attr("stroke-width", 8);
    } else {
      L.append("line").attr("x1", x0).attr("x2", x1).attr("y1", it.y).attr("y2", it.y)
        .attr("stroke", it.color).attr("stroke-width", 4);
    }
    L.append("text").attr("x", 1669).attr("y", it.y + 20).attr("font-size", 49.5).text(it.label);
  });
}

// ---------------- lower panel ----------------
drawAxes(lowerBox, xB, yB, pctTicks, d3.format("d"));

const lower = svg.append("g").attr("clip-path", "url(#clipBot)");
const pctLine = (bins) => d3.line().x((d, i) => xB(bins[i])).y(d => yB(d));
lower.append("path").attr("d", pctLine(onshorePctBins)(onshorePct))
  .attr("fill", "none").attr("stroke", BLUE).attr("stroke-width", 9).attr("stroke-linejoin", "round");
lower.append("path").attr("d", pctLine(alongshorePctBins)(alongshorePct))
  .attr("fill", "none").attr("stroke", ORANGE).attr("stroke-width", 9).attr("stroke-linejoin", "round");
lower.append("line").attr("x1", lowerBox.l).attr("x2", lowerBox.r).attr("y1", yB(0)).attr("y2", yB(0))
  .attr("stroke", "#000").attr("stroke-width", 2);

// lower y label (two lines)
svg.append("text").attr("transform", "translate(70,1262) rotate(-90)")
  .attr("text-anchor", "middle").attr("font-size", 61).text("% Over or Under");
svg.append("text").attr("transform", "translate(150,1228) rotate(-90)")
  .attr("text-anchor", "middle").attr("font-size", 61).text("Estimation by COARE");

// x label
const xl = svg.append("text").attr("x", 1183).attr("y", 1591).attr("text-anchor", "middle").attr("font-size", LABEL_FS);
xl.append("tspan").text("Wind Speed [m s");
xl.append("tspan").attr("font-size", 44).attr("dy", -25).text("-1");
xl.append("tspan").attr("dy", 25).text("]");

// legend (lower)
{
  const L = svg.append("g");
  L.append("rect").attr("x", 1635).attr("y", 1237).attr("width", 426).attr("height", 142)
    .attr("fill", "#fff").attr("stroke", INK).attr("stroke-width", 2);
  [{ label: "Onshore", color: BLUE, y: 1276 }, { label: "Alongshore", color: ORANGE, y: 1340 }].forEach(it => {
    L.append("line").attr("x1", 1647).attr("x2", 1784).attr("y1", it.y).attr("y2", it.y)
      .attr("stroke", it.color).attr("stroke-width", 8);
    L.append("text").attr("x", 1794).attr("y", it.y + 22).attr("font-size", 50.5).text(it.label);
  });
}
</script>
</body>
</html>
